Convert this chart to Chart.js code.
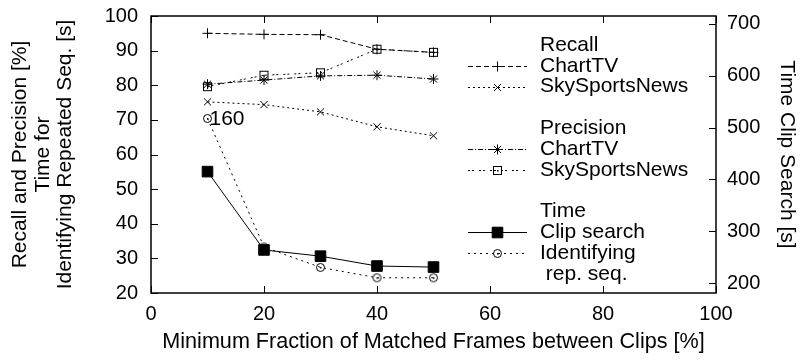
<!DOCTYPE html>
<html>
<head>
<meta charset="utf-8">
<script src="https://cdn.jsdelivr.net/npm/chart.js@4/dist/chart.umd.min.js"></script>
<style>
  html, body { margin: 0; padding: 0; background: #fff; }
  #wrap { width: 804px; height: 360px; }
</style>
</head>
<body>
<div id="wrap"><canvas id="c" width="804" height="360"></canvas></div>
<script>
// values
const fractions = [10, 20, 30, 40, 50];
const recallChartTV = [95.0, 94.7, 94.6, 90.4, 89.5];
const recallSky = [75.2, 74.4, 72.3, 68.0, 65.4];
const precisionChartTV = [80.3, 81.5, 82.7, 82.9, 81.8];
const precisionSky = [79.6, 82.9, 83.6, 90.4, 89.5];
const timeClipSearch = [415, 264, 252, 233, 231];   // right axis
const timeIdentifying = [70.4, 33.3, 27.4, 24.4, 24.4];
const identifyingNote = ['160', '', '', '', ''];
const xTicks = [0, 20, 40, 60, 80, 100];
const yTicks = [20, 30, 40, 50, 60, 70, 80, 90, 100];
const y2Ticks = [200, 300, 400, 500, 600, 700];

const FONT = 'Liberation Sans, Arial, Helvetica, sans-serif';
const FS = 20;   // tick labels
const TS = 21;   // titles, key, note

// little markers with a centre dot, like the gnuplot ones
function dotMarker(kind){
  const cv = document.createElement('canvas');
  cv.width = 11; cv.height = 11;
  const g = cv.getContext('2d');
  g.strokeStyle = '#000'; g.fillStyle = '#000'; g.lineWidth = 1;
  if (kind === 'square') g.strokeRect(1.5, 1.5, 8, 8);
  else { g.beginPath(); g.arc(5.5, 5.5, 4, 0, Math.PI * 2); g.stroke(); }
  g.fillRect(5, 5, 1.5, 1.5);
  return cv;
}
const sqDot = dotMarker('square');
const ciDot = dotMarker('circle');

function pts(arr){ return arr.map((v, i) => ({ x: fractions[i], y: v })); }

function ds(label, data, dash, style, radius, axis, fill){
  return {
    label, data: pts(data), yAxisID: axis || 'y',
    borderColor: '#000', borderWidth: 1, borderDash: dash,
    pointStyle: style, pointRadius: radius, pointHoverRadius: radius,
    pointBorderColor: '#000', pointBorderWidth: 1,
    pointBackgroundColor: fill || '#fff',
    tension: 0, fill: false
  };
}

const datasets = [
  ds('ChartTV', recallChartTV, [5, 3], 'cross', 5),
  ds('SkySportsNews', recallSky, [2, 3], 'crossRot', 5),
  ds('ChartTV', precisionChartTV, [5, 2, 1, 2], 'star', 5),
  ds('SkySportsNews', precisionSky, [2, 2, 2, 5], sqDot, 5),
  ds('Clip search', timeClipSearch, [], 'rect', 7.5, 'y2', '#000'),
  ds('Identifying', timeIdentifying, [2, 4], ciDot, 5)
];

// key rows: header text or dataset index
const legendRows = [
  ['Recall'], [null, 0], [null, 1], [''],
  ['Precision'], [null, 2], [null, 3], [''],
  ['Time'], [null, 4], [null, 5], [' rep. seq.']
];

const framePlugin = {
  id: 'frame',
  afterDraw(chart){
    const { ctx, chartArea: a, scales } = chart;
    ctx.save();
    ctx.strokeStyle = '#000';
    ctx.fillStyle = '#000';
    ctx.lineWidth = 1.5;
    ctx.strokeRect(a.left, a.top, a.right - a.left, a.bottom - a.top);
    ctx.lineWidth = 1;
    const tl = 7;
    ctx.beginPath();
    xTicks.forEach(v => {
      const x = Math.round(scales.x.getPixelForValue(v)) + 0.5;
      ctx.moveTo(x, a.bottom); ctx.lineTo(x, a.bottom - tl);
      ctx.moveTo(x, a.top); ctx.lineTo(x, a.top + tl);
    });
    yTicks.forEach(v => {
      const y = Math.round(scales.y.getPixelForValue(v)) + 0.5;
      ctx.moveTo(a.left, y); ctx.lineTo(a.left + tl, y);
    });
    y2Ticks.forEach(v => {
      const y = Math.round(scales.y2.getPixelForValue(v)) + 0.5;
      ctx.moveTo(a.right, y); ctx.lineTo(a.right - tl, y);
    });
    ctx.stroke();

    // note next to the first identifying point
    const meta = chart.getDatasetMeta(5);
    ctx.font = TS + 'px ' + FONT;
    ctx.textBaseline = 'middle';
    ctx.textAlign = 'left';
    meta.data.forEach((p, i) => {
      if (identifyingNote[i]) ctx.fillText(identifyingNote[i], p.x + 2, p.y + 1);
    });

    // key
    const textX = 540, lineX0 = 468, lineX1 = 527, y0 = 45, step = 20.8;
    legendRows.forEach((row, r) => {
      const y = y0 + r * step;
      if (row[0] === null) {
        const d = chart.data.datasets[row[1]];
        ctx.fillText(d.label, textX, y);
        ctx.save();
        ctx.setLineDash(d.borderDash);
        ctx.beginPath();
        ctx.moveTo(lineX0, Math.round(y) + 0.5);
        ctx.lineTo(lineX1, Math.round(y) + 0.5);
        ctx.stroke();
        ctx.restore();
        ctx.fillStyle = d.pointBackgroundColor;
        Chart.helpers.drawPoint(ctx, {
          pointStyle: d.pointStyle, radius: d.pointRadius, borderWidth: 1, rotation: 0
        }, (lineX0 + lineX1) / 2, Math.round(y) + 0.5);
        ctx.fillStyle = '#000';
      } else if (row[0]) {
        ctx.fillText(row[0], textX, y);
      }
    });
    ctx.restore();
  }
};

const tickFont = { family: FONT, size: FS };
const noPadY = s => { s.paddingTop = 0; s.paddingBottom = 0; };

new Chart(document.getElementById('c').getContext('2d'), {
  type: 'line',
  data: { datasets },
  plugins: [framePlugin],
  options: {
    responsive: false,
    animation: false,
    events: [],
    layout: { padding: { top: 16, left: 0, right: 0, bottom: 0 } },
    plugins: { legend: { display: false }, tooltip: { enabled: false } },
    scales: {
      x: {
        type: 'linear', min: 0, max: 100,
        afterBuildTicks: s => { s.ticks = xTicks.map(v => ({ value: v })); },
        afterFit: s => { s.height = 67; s.paddingLeft = 0; s.paddingRight = 0; },
        grid: { display: false, drawTicks: false },
        border: { display: false },
        ticks: { color: '#000', font: tickFont, padding: 9, maxRotation: 0 },
        title: { display: true, text: 'Minimum Fraction of Matched Frames between Clips [%]',
          color: '#000', font: { family: FONT, size: 21.6 }, padding: { top: 0, bottom: 5 } }
      },
      y: {
        position: 'left', min: 20, max: 100,
        afterBuildTicks: s => { s.ticks = yTicks.map(v => ({ value: v })); },
        afterFit: s => { s.width = 151; noPadY(s); },
        grid: { display: false, drawTicks: false },
        border: { display: false },
        ticks: { color: '#000', font: tickFont, padding: 13 },
        title: { display: true,
          text: ['Recall and Precision [%]', 'Time for', 'Identifying Repeated Seq. [s]'],
          color: '#000', font: { family: FONT, size: TS, lineHeight: 1.07 }, padding: { top: 9, bottom: 0 } }
      },
      y2: {
        position: 'right', min: 181, max: 715,
        afterBuildTicks: s => { s.ticks = y2Ticks.map(v => ({ value: v })); },
        afterFit: s => { s.width = 88; noPadY(s); },
        grid: { display: false, drawTicks: false },
        border: { display: false },
        ticks: { color: '#000', font: tickFont, padding: 11 },
        title: { display: true, text: 'Time Clip Search [s]',
          color: '#000', font: { family: FONT, size: TS, lineHeight: 1.07 }, padding: { top: 6, bottom: 0 } }
      }
    }
  }
});
</script>
</body>
</html>
